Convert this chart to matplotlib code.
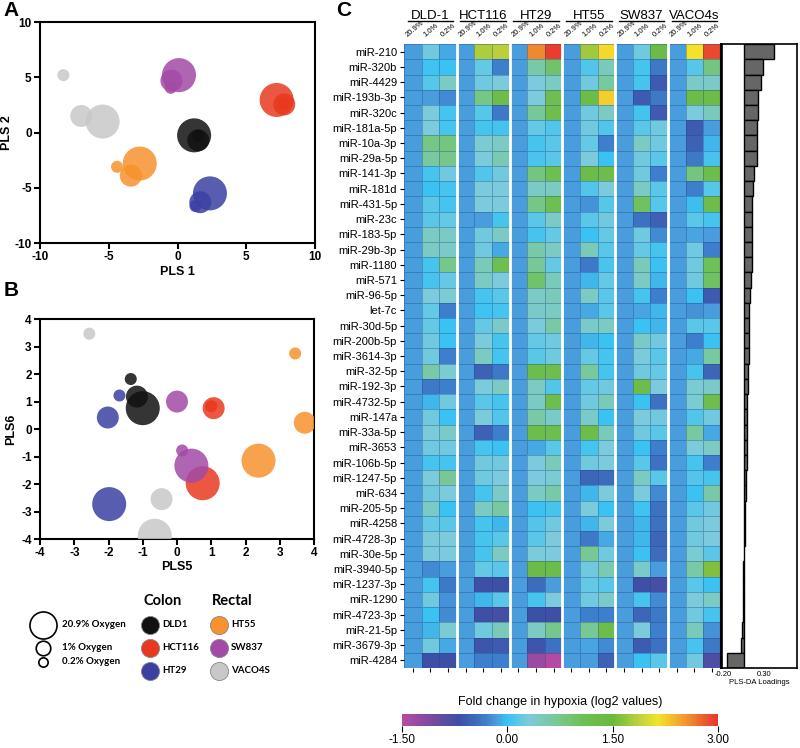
import numpy as np
import matplotlib
matplotlib.use('Agg')
import matplotlib.pyplot as plt
from matplotlib.colors import LinearSegmentedColormap, Normalize
from matplotlib.cm import ScalarMappable

plt.rcParams['font.family'] = ['Liberation Sans', 'DejaVu Sans']
plt.rcParams['axes.unicode_minus'] = False

# ---- panel A / B data -------------------------------------------------
cell_lines = ['DLD1', 'HCT116', 'HT29', 'HT55', 'SW837', 'VACO4S']
line_colors = ['#111111', '#e8391e', '#3c40a2', '#f7922e', '#a24aa6', '#c8c8c8']

pls1_o209 = [1.2, 7.2, 2.35, -2.75, 0.1, -5.45]
pls2_o209 = [-0.25, 2.95, -5.5, -2.8, 5.2, 1.0]
pls1_o1 = [1.5, 7.75, 1.65, -3.4, -0.45, -7.0]
pls2_o1 = [-0.7, 2.55, -6.3, -3.9, 4.7, 1.5]
pls1_o02 = [1.5, 7.7, 1.3, -4.4, -0.5, -8.3]
pls2_o02 = [-0.3, 2.6, -6.65, -3.1, 4.05, 5.2]

pls5_o209 = [-1.0, 0.75, -1.98, 2.38, 0.42, -0.65]
pls6_o209 = [0.76, -1.97, -2.73, -1.15, -1.33, -3.88]
pls5_o1 = [-1.17, 1.07, -2.02, 3.73, 0.0, -0.45]
pls6_o1 = [1.18, 0.76, 0.42, 0.23, 1.0, -2.55]
pls5_o02 = [-1.35, 1.0, -1.68, 3.45, 0.15, -2.56]
pls6_o02 = [1.82, 0.83, 1.22, 2.75, -0.78, 3.47]

# ---- panel C data -------------------------------------------------------
groups = ['DLD-1', 'HCT116', 'HT29', 'HT55', 'SW837', 'VACO4s']
conditions = ['20.9%', '1.0%', '0.2%']
mirnas = ['miR-210', 'miR-320b', 'miR-4429', 'miR-193b-3p', 'miR-320c',
          'miR-181a-5p', 'miR-10a-3p', 'miR-29a-5p', 'miR-141-3p', 'miR-181d',
          'miR-431-5p', 'miR-23c', 'miR-183-5p', 'miR-29b-3p', 'miR-1180',
          'miR-571', 'miR-96-5p', 'let-7c', 'miR-30d-5p', 'miR-200b-5p',
          'miR-3614-3p', 'miR-32-5p', 'miR-192-3p', 'miR-4732-5p', 'miR-147a',
          'miR-33a-5p', 'miR-3653', 'miR-106b-5p', 'miR-1247-5p', 'miR-634',
          'miR-205-5p', 'miR-4258', 'miR-4728-3p', 'miR-30e-5p', 'miR-3940-5p',
          'miR-1237-3p', 'miR-1290', 'miR-4723-3p', 'miR-21-5p', 'miR-3679-3p',
          'miR-4284']

# reference (20.9%) column value as displayed
ref_value = -0.15

# per row: (1.0%, 0.2%) for DLD-1, HCT116, HT29, HT55, SW837, VACO4s
hypoxia = [
    [0.25, -0.1, 1.8, 1.85, 2.6, 2.95, 1.75, 2.2, 0.25, 1.3, 2.15, 2.9],
    [0.02, 0.0, 0.2, -0.3, 0.6, 0.95, 0.1, 0.5, 0.05, -0.35, 0.12, 0.85],
    [0.12, 0.45, 0.25, 0.3, 0.3, 0.45, 0.25, 0.65, 0.05, -0.6, 0.4, 0.4],
    [-0.15, -0.25, 0.8, 1.2, 0.3, 1.1, 1.25, 2.25, -0.6, -0.35, 1.25, 1.25],
    [0.3, 0.05, 0.12, -0.35, 0.7, 1.15, 0.25, 0.45, 0.03, -0.6, 0.3, 0.5],
    [0.3, 0.05, 0.05, 0.03, 0.2, 0.1, 0.25, 0.1, 0.15, 0.25, -0.6, -0.15],
    [0.8, 0.85, 0.35, 0.45, 0.05, 0.15, 0.2, -0.3, 0.45, 0.25, -0.55, -0.05],
    [0.65, 0.75, 0.3, 0.55, 0.08, 0.15, 0.3, 0.0, 0.25, 0.15, -0.35, 0.05],
    [0.05, 0.25, 0.1, 0.25, 0.85, 1.1, 1.25, 1.2, 0.25, -0.3, 0.85, 1.2],
    [0.0, 0.05, 0.3, 0.3, 0.45, 0.45, 0.1, 0.3, 0.45, 0.15, -0.3, 0.12],
    [0.15, 0.05, 0.3, 0.3, 0.8, 1.1, -0.2, 0.12, 1.0, 0.12, -0.02, 1.2],
    [0.15, 0.2, -0.15, 0.05, 0.15, 0.45, 0.15, 0.25, -0.4, -0.55, 0.15, 0.05],
    [0.45, 0.45, 0.25, 0.45, 0.05, 0.2, 0.0, 0.2, 0.25, -0.25, -0.12, -0.15],
    [0.45, 0.4, 0.25, -0.1, 0.6, 0.45, 0.5, 0.15, 0.2, 0.05, 0.25, -0.3],
    [0.05, 0.75, 0.5, 1.1, 0.7, 0.2, -0.35, 0.08, 0.5, 0.0, 0.25, 1.05],
    [0.05, 0.2, 0.45, 0.3, 0.95, 0.5, -0.05, 0.2, 0.45, -0.05, 0.25, 1.0],
    [0.3, 0.35, 0.05, 0.15, 0.45, 0.5, 0.45, 0.15, 0.05, -0.3, 0.0, -0.6],
    [0.2, -0.3, 0.02, 0.05, 0.4, 0.45, -0.1, 0.15, -0.12, -0.05, -0.2, -0.15],
    [0.2, 0.0, 0.2, 0.4, 0.3, 0.6, 0.4, 0.45, 0.0, -0.05, 0.15, 0.15],
    [0.25, 0.0, 0.3, 0.05, 0.2, 0.25, -0.05, 0.0, 0.4, 0.25, -0.3, 0.0],
    [0.25, -0.3, 0.45, 0.05, 0.15, 0.25, 0.2, 0.05, 0.3, 0.15, -0.1, 0.65],
    [0.6, 0.35, -0.55, -0.35, 1.2, 1.15, 0.65, 0.05, 0.25, 0.2, 0.05, -0.5],
    [-0.35, -0.3, 0.3, 0.45, 0.45, 0.1, 0.2, 0.25, 1.2, 0.3, 0.35, 0.4],
    [-0.05, 0.25, 0.15, 0.05, 0.45, 1.15, 0.25, 0.5, 0.0, -0.4, 0.35, 1.15],
    [0.25, 0.0, 0.3, 0.1, 0.6, 0.4, 0.4, 0.0, 0.3, 0.25, 0.1, 0.25],
    [0.3, 0.4, -0.55, -0.3, 1.2, 1.15, 1.2, 0.5, 0.25, 0.15, 0.65, -0.1],
    [0.25, 0.25, 0.05, 0.0, -0.1, 0.15, 0.05, 0.3, 0.0, -0.3, 0.3, 0.45],
    [0.05, 0.05, 0.25, 0.25, 0.3, 0.5, 0.25, 0.3, 0.15, -0.4, 0.05, -0.3],
    [0.3, 0.7, 0.25, 0.3, 0.3, 0.35, -0.5, -0.45, 0.45, 0.15, 0.1, 0.05],
    [0.25, 0.3, 0.05, 0.4, 0.45, 0.6, -0.05, 0.3, 0.3, -0.25, 0.0, 0.6],
    [0.4, 0.0, 0.45, 0.65, 0.0, 0.05, 0.3, 0.0, 0.02, -0.4, 0.15, 0.25],
    [0.2, 0.15, 0.05, -0.05, 0.1, 0.25, -0.05, 0.3, -0.05, -0.4, 0.25, 0.3],
    [0.3, 0.3, 0.05, 0.15, 0.15, 0.3, -0.35, -0.1, -0.05, -0.5, 0.25, 0.3],
    [0.3, 0.3, 0.05, 0.45, 0.3, 0.3, 0.7, 0.25, 0.0, -0.45, 0.35, 0.15],
    [-0.25, -0.15, 0.2, 0.15, 1.3, 1.25, 0.25, 0.55, 0.4, -0.15, 0.6, 1.6],
    [0.05, -0.35, -0.7, -0.7, -0.45, -0.15, 0.2, 0.15, -0.7, -0.75, 0.15, 0.0],
    [0.25, -0.2, -0.05, 0.15, 0.05, 0.3, 0.25, 0.4, 0.05, -0.25, 0.3, 0.45],
    [0.0, -0.25, -0.7, -0.75, -0.7, -0.7, -0.3, -0.3, -0.5, -0.35, 0.25, 0.05],
    [-0.05, 0.35, 0.25, 0.5, 0.45, 0.75, 0.7, 1.2, 0.3, -0.3, 0.5, -0.2],
    [0.25, -0.1, -0.65, -0.6, -0.65, -0.4, -0.12, -0.25, -0.6, -0.4, 0.05, -0.35],
    [-0.7, -0.7, -0.3, -0.3, -1.3, -1.45, -0.15, -0.55, 0.0, 0.15, 0.25, -0.8],
]

loadings = [0.366, 0.235, 0.215, 0.175, 0.175, 0.163, 0.155, 0.155, 0.126,
            0.114, 0.106, 0.102, 0.102, 0.100, 0.094, 0.092, 0.077, 0.069,
            0.065, 0.063, 0.060, 0.055, 0.050, 0.045, 0.042, 0.040, 0.036,
            0.034, 0.028, 0.022, 0.020, 0.018, 0.015, 0.005, -0.008, -0.010,
            -0.012, -0.014, -0.018, -0.035, -0.21]
loading_base = 0.055

# build full matrix: 20.9% column first in each group
hyp = np.array(hypoxia)
n_rows = len(mirnas)
mat = np.zeros((n_rows, 18))
for g in range(6):
    mat[:, g * 3] = ref_value
    mat[:, g * 3 + 1] = hyp[:, g * 2]
    mat[:, g * 3 + 2] = hyp[:, g * 2 + 1]

# colormap
vmin, vmax = -1.5, 3.0
stops = [(-1.5, '#b84ba2'), (-1.1, '#7a4aa0'), (-0.7, '#3d4fa6'),
         (-0.3, '#3d7fcc'), (-0.15, '#4a9fdd'), (0.0, '#3cc2f2'),
         (0.3, '#7ccbdc'), (0.7, '#78c898'), (1.1, '#6ebf50'),
         (1.5, '#6ab840'), (1.85, '#b8d03c'), (2.15, '#f2e42a'),
         (2.5, '#f2a030'), (3.0, '#e8352f')]
cmap = LinearSegmentedColormap.from_list(
    'hyp', [((v - vmin) / (vmax - vmin), c) for v, c in stops])

fig = plt.figure(figsize=(8, 7.48), dpi=100)

# ---- scatter panels --------------------------------------------------
sizes = [600, 250, 75]


def scatter_panel(ax, xs, ys):
    for (x, y), s in zip(zip(xs, ys), sizes):
        ax.scatter(x, y, s=s, c=line_colors, alpha=0.85, linewidths=0, zorder=3)
    for sp in ax.spines.values():
        sp.set_linewidth(1.5)
    ax.tick_params(width=1.5, length=4, labelsize=8.5, pad=2)
    for lab in ax.get_xticklabels() + ax.get_yticklabels():
        lab.set_fontweight('bold')


axA = fig.add_axes([0.05, 0.675, 0.344, 0.2955])
axA.set_xlim(-10, 10)
axA.set_ylim(-10, 10)
axA.set_xticks([-10, -5, 0, 5, 10])
axA.set_yticks([-10, -5, 0, 5, 10])
scatter_panel(axA, [pls1_o209, pls1_o1, pls1_o02], [pls2_o209, pls2_o1, pls2_o02])
axA.set_xlabel('PLS 1', fontsize=9, fontweight='bold', labelpad=2)
axA.set_ylabel('PLS 2', fontsize=9, fontweight='bold', labelpad=1)

axB = fig.add_axes([0.05, 0.2794, 0.3425, 0.294])
axB.set_xlim(-4, 4)
axB.set_ylim(-4, 4)
axB.set_xticks(range(-4, 5))
axB.set_yticks(range(-4, 5))
scatter_panel(axB, [pls5_o209, pls5_o1, pls5_o02], [pls6_o209, pls6_o1, pls6_o02])
axB.set_xlabel('PLS5', fontsize=9, fontweight='bold', labelpad=1)
axB.set_ylabel('PLS6', fontsize=9, fontweight='bold', labelpad=3)

fig.text(0.004, 0.998, 'A', fontsize=15, fontweight='bold', va='top')
fig.text(0.004, 0.624, 'B', fontsize=15, fontweight='bold', va='top')
fig.text(0.42, 0.998, 'C', fontsize=15, fontweight='bold', va='top')

# ---- legend block ----------------------------------------------------
axL = fig.add_axes([0.0, 0.07, 0.4, 0.17])
axL.set_xlim(0, 320)
axL.set_ylim(127, 0)
axL.axis('off')
lfont = dict(family=['Lato', 'DejaVu Sans'], fontweight='bold')
oxy_labels = ['20.9% Oxygen', '1% Oxygen', '0.2% Oxygen']
oxy_y = [56, 79, 93]
for lab, yy, s in zip(oxy_labels, oxy_y, [380, 110, 45]):
    axL.scatter(43, yy, s=s, facecolors='white', edgecolors='black', linewidths=1.2)
    axL.text(62, yy, lab, fontsize=7, va='center', **lfont)
axL.text(143, 32, 'Colon', fontsize=10.5, va='center', **lfont)
axL.text(212, 32, 'Rectal', fontsize=10.5, va='center', **lfont)
for i, (lab, col) in enumerate(zip(cell_lines, line_colors)):
    cx = 150 if i < 3 else 219
    yy = [56, 79, 102][i % 3]
    axL.scatter(cx, yy, s=170, color=col, edgecolors='#888888', linewidths=0.6)
    axL.text(cx + 12, yy, lab, fontsize=7, va='center', **lfont)

# ---- heatmap ---------------------------------------------------------
axH = fig.add_axes([0.505, 0.107, 0.396, 0.834])
axH.pcolormesh(mat, cmap=cmap, vmin=vmin, vmax=vmax,
               edgecolors=(0.1, 0.25, 0.5, 0.35), linewidth=0.5)
axH.set_xlim(0, 18)
axH.set_ylim(n_rows, 0)
for g in range(1, 6):
    axH.axvline(g * 3, color='white', lw=2)
for sp in ['top', 'left', 'bottom']:
    axH.spines[sp].set_visible(False)
axH.spines['right'].set_linewidth(1.5)
axH.set_yticks(np.arange(n_rows) + 0.5)
axH.set_yticklabels(mirnas, fontsize=8)
axH.set_xticks(np.arange(18) + 0.5)
axH.set_xticklabels([])
axH.tick_params(axis='both', length=3, width=0.8, pad=2)

for g, name in enumerate(groups):
    axH.text(g * 3 + 1.5, -1.68, name, ha='center', va='baseline', fontsize=9.5)
    axH.plot([g * 3 + 0.2, g * 3 + 2.8], [-1.5, -1.5], color='black',
             lw=1, clip_on=False)
    for c, cond in enumerate(conditions):
        axH.text(g * 3 + c + 0.3, -0.4, cond, rotation=40, fontsize=5.5,
                 ha='left', va='bottom', rotation_mode='anchor')

# ---- loadings bars ---------------------------------------------------
axP = fig.add_axes([0.9025, 0.107, 0.094, 0.834])
axP.barh(np.arange(n_rows) + 0.5, loadings, left=loading_base, height=1.0,
         color='#666666', edgecolor='black', linewidth=1)
axP.set_ylim(n_rows, 0)
axP.set_xlim(-0.21, 0.705)
axP.set_yticks([])
axP.set_xticks([-0.20, 0.30])
axP.set_xticklabels(['-0.20', '0.30'])
axP.tick_params(axis='x', labelsize=5.5, length=0, pad=2)
axP.set_xlabel('PLS-DA Loadings', fontsize=5.5, labelpad=1)
for sp in axP.spines.values():
    sp.set_linewidth(1.2)

# ---- colour bar ------------------------------------------------------
cax = fig.add_axes([0.5025, 0.0294, 0.395, 0.016])
cb = fig.colorbar(ScalarMappable(norm=Normalize(vmin, vmax), cmap=cmap),
                  cax=cax, orientation='horizontal')
cb.outline.set_visible(False)
cb.set_ticks([-1.5, 0.0, 1.5, 3.0])
cb.set_ticklabels(['-1.50', '0.00', '1.50', '3.00'])
cax.tick_params(labelsize=8.5, length=4, width=0.8, pad=2)
fig.text(0.70, 0.053, 'Fold change in hypoxia (log2 values)', ha='center',
         va='bottom', fontsize=9)

fig.savefig('out.png', dpi=100)
